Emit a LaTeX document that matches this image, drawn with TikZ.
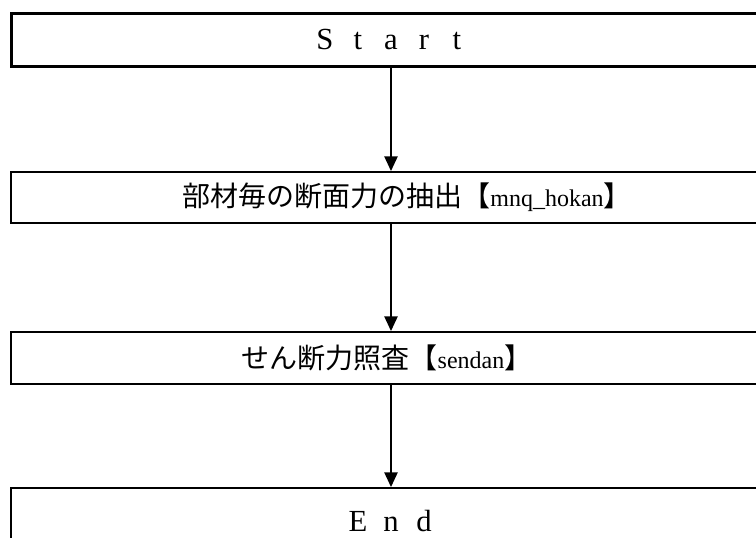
\documentclass[tikz,border=0pt]{standalone}
\usepackage{fontspec}
\setmainfont{Liberation Serif}
\newfontfamily\jpfont{Noto Sans CJK JP}
\usetikzlibrary{arrows.meta}
\tikzset{
    box/.style={draw, line width=1.5pt, minimum width=570pt, inner sep=0pt},
    flow/.style={line width=1.1pt, -{Triangle[width=10pt, length=11pt]}},
    bigtxt/.style={font=\fontsize{23}{23}\selectfont},
    jptxt/.style={font=\fontsize{21}{21}\selectfont\jpfont}
}
\newcommand{\fw}[1]{\makebox[24.75pt]{#1}}
\newcommand{\latin}[1]{{\rmfamily\fontsize{18}{18}\selectfont #1}}

\begin{document}
\begin{tikzpicture}[x=0.75pt, y=-0.75pt]
    \useasboundingbox (0,0) rectangle (756,537);
    \clip (0,0) rectangle (756,537);

    % Blocchi del flusso
    \node[box, line width=2.25pt, minimum height=39.75pt, bigtxt] (start) at (391,39.5) {\fw{S}\fw{t}\fw{a}\fw{r}\fw{t}};
    \node[box, minimum height=38.25pt] (extract) at (391,197.5) {};
    \node[jptxt] (extracttxt) at ([xshift=12pt]extract.center) {部材毎の断面力の抽出【\latin{mnq\_hokan}】};
    \node[box, minimum height=39pt] (shear) at (391,358) {};
    \node[jptxt] (sheartxt) at ([xshift=-3pt]shear.center) {せん断力照査【\latin{sendan}】};
    \node[box, minimum height=49.5pt, bigtxt] (stop) at (391,521) {\fw{E}\fw{n}\fw{d}};

    % Frecce
    \draw[flow] (start) -- (extract);
    \draw[flow] (extract) -- (shear);
    \draw[flow] (shear) -- (stop);
\end{tikzpicture}
\end{document}
